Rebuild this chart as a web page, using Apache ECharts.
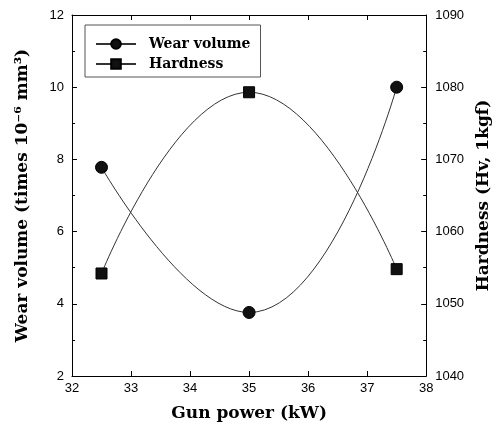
<!DOCTYPE html>
<html>
<head>
<meta charset="utf-8">
<script src="https://cdn.jsdelivr.net/npm/echarts@6/dist/echarts.min.js"></script>
<style>
  html, body { margin: 0; padding: 0; background: #fff; }
  #chart { width: 500px; height: 433px; }
</style>
</head>
<body>
<div id="chart"></div>
<script>
// data
const gunPower = [32.5, 35, 37.5];
const wearVolume = [7.78, 3.76, 10.0];
const hardness = [1054.2, 1079.3, 1054.8];

const serif = "'DejaVu Serif', 'Liberation Serif', serif";
const sans = "'Liberation Sans', Arial, sans-serif";

const chart = echarts.init(document.getElementById("chart"));

// common look for the frame axes
const axisLine = { show: true, lineStyle: { color: "#000", width: 1 } };
const tickIn = { show: true, inside: true, length: 5, lineStyle: { color: "#000" } };
const minorIn = { show: true, splitNumber: 2, length: 3, lineStyle: { color: "#000" } };
const nameStyle = { fontFamily: serif, fontWeight: "bold", fontSize: 17, color: "#000" };

const option = {
  animation: false,
  backgroundColor: "#fff",
  grid: { left: 72, right: 65, top: 15, bottom: 57 },
  legend: {
    orient: "vertical",
    left: 85,
    top: 25,
    itemWidth: 40,
    itemHeight: 12,
    itemGap: 6,
    padding: [12, 10, 6, 10],
    borderColor: "#555",
    borderWidth: 1,
    textStyle: { fontFamily: serif, fontWeight: "bold", fontSize: 14, color: "#000", padding: [0, 0, 0, 8] },
    data: ["Wear volume", "Hardness"]
  },
  xAxis: [
    {
      type: "value",
      min: 32, max: 38, interval: 1,
      name: "Gun power (kW)",
      nameLocation: "middle",
      nameGap: 29,
      nameTextStyle: nameStyle,
      axisLine: axisLine,
      axisTick: tickIn,
      axisLabel: { fontFamily: sans, fontSize: 13, color: "#000", margin: 6 },
      splitLine: { show: false }
    },
    {
      type: "value",
      position: "top",
      min: 32, max: 38, interval: 1,
      axisLine: axisLine,
      axisTick: tickIn,
      axisLabel: { show: false },
      splitLine: { show: false }
    }
  ],
  yAxis: [
    {
      type: "value",
      min: 2, max: 12, interval: 2,
      name: "Wear volume (times 10\u207B\u2076 mm\u00B3)",
      nameLocation: "middle",
      nameRotate: 90,
      nameGap: 41,
      nameTextStyle: nameStyle,
      axisLine: axisLine,
      axisTick: tickIn,
      minorTick: minorIn,
      axisLabel: { fontFamily: sans, fontSize: 13, color: "#000", margin: 8 },
      splitLine: { show: false }
    },
    {
      type: "value",
      position: "right",
      min: 1040, max: 1090, interval: 10,
      name: "Hardness (Hv, 1kgf)",
      nameLocation: "middle",
      nameRotate: 90,
      nameGap: 47,
      nameTextStyle: nameStyle,
      axisLine: axisLine,
      axisTick: tickIn,
      minorTick: minorIn,
      axisLabel: { fontFamily: sans, fontSize: 13, color: "#000", margin: 9, formatter: (v) => String(v) },
      splitLine: { show: false }
    }
  ],
  series: [
    {
      name: "Wear volume",
      type: "line",
      xAxisIndex: 0,
      yAxisIndex: 0,
      smooth: 0.5,
      symbol: "circle",
      symbolSize: 12,
      itemStyle: { color: "#111", borderColor: "#000", borderWidth: 1 },
      lineStyle: { color: "#333", width: 1 },
      data: gunPower.map((x, i) => [x, wearVolume[i]])
    },
    {
      name: "Hardness",
      type: "line",
      xAxisIndex: 0,
      yAxisIndex: 1,
      smooth: 0.5,
      symbol: "rect",
      symbolSize: 11,
      itemStyle: { color: "#111", borderColor: "#000", borderWidth: 1 },
      lineStyle: { color: "#333", width: 1 },
      data: gunPower.map((x, i) => [x, hardness[i]])
    }
  ]
};

chart.setOption(option);
</script>
</body>
</html>
